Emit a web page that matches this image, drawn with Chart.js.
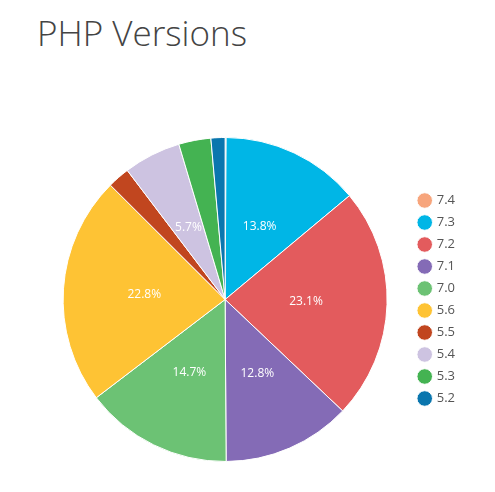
<!DOCTYPE html>
<html>
<head>
<meta charset="utf-8">
<script src="https://cdn.jsdelivr.net/npm/chart.js@4"></script>
<style>
  body { margin: 0; background: #fff; }
  #wrap { position: relative; width: 495px; height: 492px; }
  h1 { position: absolute; left: 37px; top: 9px; margin: 0; font: 300 35px "Open Sans", sans-serif; color: #444; }
  canvas { position: absolute; left: 0; top: 0; }
</style>
</head>
<body>
<div id="wrap">
  <h1>PHP Versions</h1>
  <canvas id="pie" width="495" height="492"></canvas>
</div>
<script>
const versions = ['7.4', '7.3', '7.2', '7.1', '7.0', '5.6', '5.5', '5.4', '5.3', '5.2'];
const shares = [0.1, 13.8, 23.1, 12.8, 14.7, 22.8, 2.2, 5.7, 3.2, 1.4];
const colors = ['#f7a57c', '#00b6e6', '#e35b5d', '#846bb6', '#6cc274', '#fec334', '#c1461f', '#cdc3e1', '#44b352', '#0a76ae'];

// percent labels on the bigger slices
const sliceLabels = {
  id: 'sliceLabels',
  afterDatasetsDraw(chart) {
    const c = chart.ctx;
    const meta = chart.getDatasetMeta(0);
    c.save();
    c.font = '12px "Open Sans", sans-serif';
    c.fillStyle = '#fff';
    c.textAlign = 'center';
    c.textBaseline = 'middle';
    meta.data.forEach((arc, i) => {
      if (shares[i] < 5) return;
      const p = arc.tooltipPosition();
      c.fillText(shares[i].toFixed(1) + '%', p.x, p.y);
    });
    c.restore();
  }
};

new Chart(document.getElementById('pie'), {
  type: 'pie',
  data: {
    labels: versions,
    datasets: [{ data: shares, backgroundColor: colors, borderColor: '#fff', borderWidth: 1 }]
  },
  options: {
    responsive: false,
    animation: false,
    layout: { padding: { top: 137, bottom: 30, left: 40, right: 30 } },
    plugins: {
      tooltip: { enabled: false },
      legend: {
        position: 'right',
        labels: {
          usePointStyle: true, pointStyle: 'circle', boxWidth: 11, boxHeight: 11,
          padding: 9, color: '#555', font: { size: 13, family: '"Open Sans", sans-serif' }
        }
      }
    }
  },
  plugins: [sliceLabels]
});
</script>
</body>
</html>
